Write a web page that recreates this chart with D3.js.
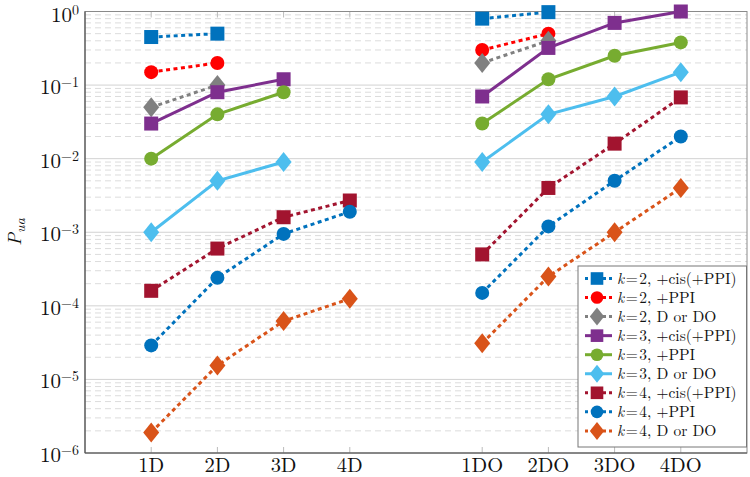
<!DOCTYPE html>
<html><head><meta charset="utf-8">
<script src="https://cdn.jsdelivr.net/npm/d3@7"></script>
<style>
html,body{margin:0;padding:0;background:#fff;}
svg{display:block;}
text{font-family:"Latin Modern Roman","CMU Serif","Liberation Serif","DejaVu Serif",serif;fill:#111;}
</style></head>
<body>
<svg id="chart" width="750" height="477"></svg>
<script>
// ---- data ----
const categories = ["1D","2D","3D","4D","1DO","2DO","3DO","4DO"];
const yTickExponents = [0,-1,-2,-3,-4,-5,-6];
const seriesNames = ["k=2, +cis(+PPI)","k=2, +PPI","k=2, D or DO","k=3, +cis(+PPI)","k=3, +PPI","k=3, D or DO","k=4, +cis(+PPI)","k=4, +PPI","k=4, D or DO"];
const k2cis = [0.45, 0.50, null, null, 0.80, 0.98, null, null];
const k2ppi = [0.15, 0.20, null, null, 0.30, 0.50, null, null];
const k2d   = [0.05, 0.10, null, null, 0.20, 0.40, null, null];
const k3cis = [0.03, 0.08, 0.12, null, 0.07, 0.32, 0.70, 1.0];
const k3ppi = [0.01, 0.04, 0.08, null, 0.03, 0.12, 0.25, 0.38];
const k3d   = [0.001, 0.005, 0.009, null, 0.009, 0.04, 0.07, 0.15];
const k4cis = [1.6e-4, 6.0e-4, 1.6e-3, 2.7e-3, 5.0e-4, 4.0e-3, 0.016, 0.068];
const k4ppi = [2.9e-5, 2.4e-4, 9.5e-4, 1.9e-3, 1.5e-4, 1.2e-3, 5.0e-3, 0.020];
const k4d   = [1.9e-6, 1.55e-5, 6.2e-5, 1.25e-4, 3.1e-5, 2.5e-4, 1.0e-3, 4.0e-3];
const seriesValues = [k2cis,k2ppi,k2d,k3cis,k3ppi,k3d,k4cis,k4ppi,k4d];

// ---- styles ----
const colors = ["#0072BD","#FF0000","#808080","#7E2F8E","#77AC30","#4DBEEE","#A2142F","#0072BD","#D95319"];
const markers = ["square","circle","diamond","square","circle","diamond","square","circle","diamond"];
const dashed = [true,true,true,false,false,false,true,true,true];

const svg = d3.select("#chart");
const L=85, R=747, T=11.5, B=453;
const domainCats = ["1D","2D","3D","4D","_gap","1DO","2DO","3DO","4DO"];
const x = d3.scalePoint().domain(domainCats).range([L,R]).padding(1);
const y = d3.scaleLog().domain([1e-6,1]).range([B,T]);

// grid
const g = svg.append("g");
for (let e=-6;e<0;e++){
  for (let m=2;m<=9;m++){
    g.append("line").attr("x1",L).attr("x2",R).attr("y1",y(m*Math.pow(10,e))).attr("y2",y(m*Math.pow(10,e)))
     .attr("stroke","#dcdcdc").attr("stroke-width",1).attr("stroke-dasharray","6,4");
  }
}
yTickExponents.forEach(e=>{
  g.append("line").attr("x1",L).attr("x2",R).attr("y1",y(Math.pow(10,e))).attr("y2",y(Math.pow(10,e)))
   .attr("stroke","#d2d2d2").attr("stroke-width",1);
});
// x ticks (inside)
categories.forEach(c=>{
  g.append("line").attr("x1",x(c)).attr("x2",x(c)).attr("y1",B).attr("y2",B-6).attr("stroke","#bbb");
  g.append("line").attr("x1",x(c)).attr("x2",x(c)).attr("y1",T).attr("y2",T+6).attr("stroke","#bbb");
});
// frame
svg.append("rect").attr("x",L).attr("y",T).attr("width",R-L).attr("height",B-T)
  .attr("fill","none").attr("stroke","#8a8a8a").attr("stroke-width",1);
svg.append("line").attr("x1",L).attr("x2",L).attr("y1",T).attr("y2",B).attr("stroke","#555").attr("stroke-width",1.2);
svg.append("line").attr("x1",L).attr("x2",R).attr("y1",B).attr("y2",B).attr("stroke","#555").attr("stroke-width",1.2);

// y tick labels
yTickExponents.forEach(e=>{
  const t = svg.append("text").attr("x",L-6).attr("y",y(Math.pow(10,e))+9+(e===0?1.5:0)).attr("text-anchor","end").style("font-size","21px");
  t.append("tspan").text("10");
  t.append("tspan").attr("dy",-7).style("font-size","14px").text(e===0?"0":"\u2212"+(-e));
});
// x tick labels
categories.forEach(c=>{
  svg.append("text").attr("x",x(c)).attr("y",472).attr("text-anchor","middle").style("font-size","20.5px").text(c);
});
// y label
const yl = svg.append("text").attr("transform","translate(21,232) rotate(-90)").attr("text-anchor","middle").style("font-size","19px").style("font-style","italic");
yl.append("tspan").text("P");
yl.append("tspan").attr("dy",4).style("font-size","14px").text("ua");

// marker drawing
function drawMarker(sel, type, cx, cy, color, scale){
  scale = scale||1;
  if(type==="square"){
    const s=14*scale;
    sel.append("rect").attr("x",cx-s/2).attr("y",cy-s/2).attr("width",s).attr("height",s).attr("fill",color);
  } else if(type==="circle"){
    sel.append("circle").attr("cx",cx).attr("cy",cy).attr("r",7*scale).attr("fill",color);
  } else {
    const w=8*scale, h=10*scale;
    sel.append("path").attr("d",`M${cx},${cy-h}L${cx+w},${cy}L${cx},${cy+h}L${cx-w},${cy}Z`).attr("fill",color);
  }
}

const line = d3.line().x(d=>x(d.c)).y(d=>y(d.v));
const plot = svg.append("g");
seriesValues.forEach((vals,si)=>{
  const pts = categories.map((c,i)=>({c, v:vals[i], grp: c.endsWith("O")?1:0})).filter(d=>d.v!=null);
  const sg = plot.append("g");
  [0,1].forEach(gr=>{
    const seg = pts.filter(d=>d.grp===gr);
    if(seg.length>1){
      sg.append("path").attr("d",line(seg)).attr("fill","none").attr("stroke",colors[si])
        .attr("stroke-width",3).attr("stroke-dasharray",dashed[si]?"4,3.5":null);
    }
  });
  pts.forEach(d=>drawMarker(sg, markers[si], x(d.c), y(d.v), colors[si]));
});

// legend
const lx=578, ly=266, lw=168.5, lh=181;
const lg = svg.append("g");
lg.append("rect").attr("x",lx).attr("y",ly).attr("width",lw).attr("height",lh).attr("fill","#fff").attr("stroke","#777").attr("stroke-width",1);
seriesNames.forEach((name,i)=>{
  const cy = ly+12.5+i*19.05;
  lg.append("line").attr("x1",lx+7).attr("x2",lx+34).attr("y1",cy).attr("y2",cy).attr("stroke",colors[i]).attr("stroke-width",3)
    .attr("stroke-dasharray",dashed[i]?"3,3":null);
  drawMarker(lg, markers[i], lx+19, cy, colors[i], 0.9);
  lg.append("text").attr("x",lx+39).attr("y",cy+5).style("font-size","15.5px")
    .html('<tspan font-style="italic">k</tspan><tspan dx="1.5">=</tspan><tspan dx="1.5">' + name.split("=")[1] + '</tspan>');
});
</script>
</body></html>
